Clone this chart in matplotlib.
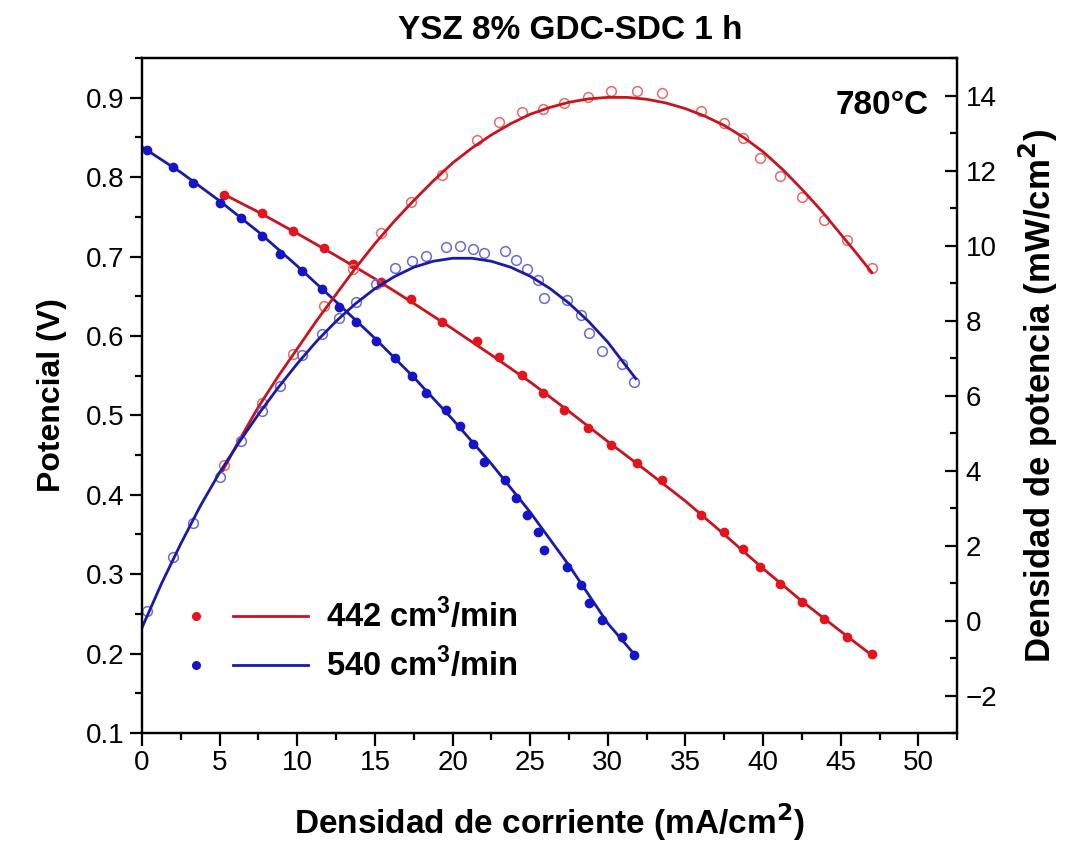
import numpy as np
import matplotlib
matplotlib.use('Agg')
import matplotlib.pyplot as plt
from matplotlib.lines import Line2D
from matplotlib.legend_handler import HandlerBase
from matplotlib.ticker import MultipleLocator

plt.rcParams['font.family'] = ['Liberation Sans', 'DejaVu Sans']

# current density (mA/cm2) and potential (V), 442 cm3/min
i_442 = [5.3, 7.7, 9.7, 11.7, 13.6, 15.4, 17.3, 19.3, 21.6, 23.0, 24.5, 25.8, 27.2,
         28.7, 30.2, 31.9, 33.5, 36.0, 37.5, 38.7, 39.8, 41.1, 42.5, 43.9, 45.4, 47.0]
v_442 = [0.777, 0.755, 0.732, 0.711, 0.691, 0.668, 0.646, 0.617, 0.594, 0.574, 0.551,
         0.528, 0.507, 0.484, 0.463, 0.440, 0.419, 0.375, 0.353, 0.332, 0.309, 0.288,
         0.265, 0.244, 0.221, 0.200]
# power density (mW/cm2), 442 cm3/min
p_442 = [4.15, 5.80, 7.10, 8.38, 9.37, 10.33, 11.16, 11.89, 12.82, 13.30, 13.55, 13.65,
         13.81, 13.95, 14.13, 14.13, 14.08, 13.60, 13.28, 12.88, 12.34, 11.86, 11.30,
         10.68, 10.15, 9.40]

# 540 cm3/min
i_540 = [0.3, 2.0, 3.3, 5.0, 6.4, 7.7, 8.9, 10.3, 11.6, 12.7, 13.8, 15.1, 16.3, 17.4,
         18.3, 19.6, 20.5, 21.3, 22.0, 23.4, 24.1, 24.8, 25.5, 25.9, 27.4, 28.3, 28.8,
         29.6, 30.9, 31.7]
v_540 = [0.834, 0.813, 0.792, 0.768, 0.748, 0.726, 0.703, 0.682, 0.659, 0.637, 0.617,
         0.594, 0.572, 0.550, 0.528, 0.507, 0.486, 0.464, 0.441, 0.419, 0.396, 0.375,
         0.353, 0.331, 0.309, 0.286, 0.264, 0.242, 0.221, 0.198]
p_540 = [0.25, 1.69, 2.60, 3.84, 4.79, 5.59, 6.26, 7.07, 7.63, 8.08, 8.49, 8.97, 9.40,
         9.58, 9.72, 9.96, 9.99, 9.90, 9.80, 9.85, 9.61, 9.37, 9.07, 8.59, 8.54, 8.14,
         7.66, 7.20, 6.85, 6.37]

# fitted curves
fit_v442_x = [5.3, 7.5, 10, 12.5, 15, 17.5, 20, 22.5, 25, 27.5, 30, 32.5, 35, 37.5,
              40, 42.5, 45, 47.0]
fit_v442_y = [0.778, 0.756, 0.729, 0.701, 0.672, 0.641, 0.609, 0.576, 0.542, 0.505,
              0.467, 0.430, 0.392, 0.350, 0.307, 0.266, 0.228, 0.198]
fit_v540_x = [0.0, 2.5, 5, 7.5, 10, 12.5, 15, 17.5, 20, 22.5, 25, 27.5, 30, 31.8]
fit_v540_y = [0.838, 0.806, 0.770, 0.731, 0.688, 0.643, 0.597, 0.548, 0.495, 0.439,
              0.378, 0.311, 0.238, 0.197]
fit_p442_x = [5.2, 6.25, 7.5, 8.75, 10, 11.25, 12.5, 13.75, 15, 16.25, 17.5, 18.75,
              20, 21.25, 22.5, 23.75, 25, 26.25, 27.5, 28.75, 30, 31.25, 32.5, 33.75,
              35, 36.25, 37.5, 38.75, 40, 41.25, 42.5, 43.75, 45, 46, 47.0]
fit_p442_y = [4.0, 4.8, 5.7, 6.5, 7.25, 8.0, 8.7, 9.4, 10.05, 10.65, 11.2, 11.72,
              12.2, 12.6, 12.95, 13.25, 13.5, 13.68, 13.82, 13.91, 13.95, 13.95, 13.9,
              13.8, 13.65, 13.45, 13.2, 12.88, 12.5, 12.03, 11.5, 10.93, 10.3, 9.8, 9.28]
fit_p540_x = [0.0, 1.25, 2.5, 3.75, 5, 6.25, 7.5, 8.75, 10, 11.25, 12.5, 13.75, 15,
              16.25, 17.5, 18.75, 20, 21.25, 22.5, 23.75, 25, 26.25, 27.5, 28.75, 30,
              31.8]
fit_p540_y = [-0.19, 0.98, 2.05, 3.05, 3.95, 4.75, 5.5, 6.2, 6.85, 7.45, 7.98, 8.45,
              8.85, 9.17, 9.42, 9.58, 9.66, 9.66, 9.58, 9.42, 9.18, 8.86, 8.46, 7.98,
              7.42, 6.45]

red = '#e3141c'
red_line = '#c8141e'
blue = '#1414c8'
blue_line = '#1a1aa8'


class DotLineHandler(HandlerBase):
    # Origin-style legend entry: a dot, a gap, then a line segment
    def create_artists(self, legend, orig_handle, xdescent, ydescent, width,
                       height, fontsize, trans):
        y = height / 2 - ydescent
        dot = Line2D([0.12 * width - xdescent], [y], ls='none', marker='o',
                     color=orig_handle.get_markerfacecolor(), ms=5.5)
        line = Line2D([0.41 * width - xdescent, width - xdescent], [y, y],
                      color=orig_handle.get_color(), lw=2)
        dot.set_transform(trans)
        line.set_transform(trans)
        return [dot, line]


fig = plt.figure(figsize=(10.67, 8.48), dpi=100)
axs1 = fig.add_axes([0.1331, 0.1356, 0.7640, 0.7960])
axs2 = axs1.twinx()

axs1.plot(i_442, v_442, 'o', color=red, ms=6, zorder=3)
axs1.plot(fit_v442_x, fit_v442_y, '-', color=red_line, lw=2, zorder=2)
axs1.plot(i_540, v_540, 'o', color=blue, ms=6, zorder=3)
axs1.plot(fit_v540_x, fit_v540_y, '-', color=blue_line, lw=2, zorder=2)

axs2.plot(i_442, p_442, 'o', mfc='none', mec='#e86a6a', ms=7, mew=1.1)
axs2.plot(fit_p442_x, fit_p442_y, '-', color=red_line, lw=2)
axs2.plot(i_540, p_540, 'o', mfc='none', mec='#6a6ad6', ms=7, mew=1.1)
axs2.plot(fit_p540_x, fit_p540_y, '-', color=blue_line, lw=2)

axs1.set_xlim((0, 52.5))
axs1.set_ylim((0.1, 0.95))
axs2.set_ylim((-3, 15))

axs1.xaxis.set_major_locator(MultipleLocator(5))
axs1.xaxis.set_minor_locator(MultipleLocator(2.5))
axs1.yaxis.set_major_locator(MultipleLocator(0.1))
axs1.yaxis.set_minor_locator(MultipleLocator(0.05))
axs2.yaxis.set_major_locator(MultipleLocator(2))
axs2.yaxis.set_minor_locator(MultipleLocator(1))
axs1.yaxis.set_major_formatter(plt.FormatStrFormatter('%.1f'))

axs1.tick_params(axis='both', which='major', direction='out', length=9, width=1.6,
                 labelsize=20, top=False, right=False)
axs1.tick_params(axis='both', which='minor', direction='out', length=5, width=1.6,
                 top=False, right=False)
axs2.tick_params(axis='y', which='major', direction='in', length=9, width=1.6,
                 labelsize=20, pad=6)
axs2.tick_params(axis='y', which='minor', direction='in', length=5, width=1.6)
for ax in (axs1, axs2):
    for sp in ax.spines.values():
        sp.set_linewidth(1.6)

axs1.set_xlabel('Densidad de corriente (mA/cm$^\\mathbf{2}$)', fontsize=24,
                fontweight='bold', labelpad=18)
axs1.set_ylabel('Potencial (V)', fontsize=23, fontweight='bold', labelpad=14)
axs2.set_ylabel('Densidad de potencia (mW/cm$^\\mathbf{2}$)', fontsize=25,
                fontweight='bold', labelpad=14)
axs1.set_title('YSZ 8% GDC-SDC 1 h', fontsize=24, fontweight='bold', pad=14, x=0.525)
axs1.text(0.965, 0.93, '780°C', transform=axs1.transAxes, ha='right', va='center',
          fontsize=24, fontweight='bold')

h442 = Line2D([], [], color=red_line, mfc=red)
h540 = Line2D([], [], color=blue_line, mfc=blue)
axs1.legend([h442, h540], ['442 cm$^\\mathregular{3}$/min', '540 cm$^\\mathregular{3}$/min'],
            handler_map={Line2D: DotLineHandler()},
            loc='lower left', bbox_to_anchor=(0.047, 0.074), frameon=False,
            borderpad=0, borderaxespad=0, handlelength=3.9, handletextpad=0.55,
            labelspacing=0.38, prop={'size': 23.5, 'weight': 'bold'})

fig.savefig('out.png', dpi=100)
